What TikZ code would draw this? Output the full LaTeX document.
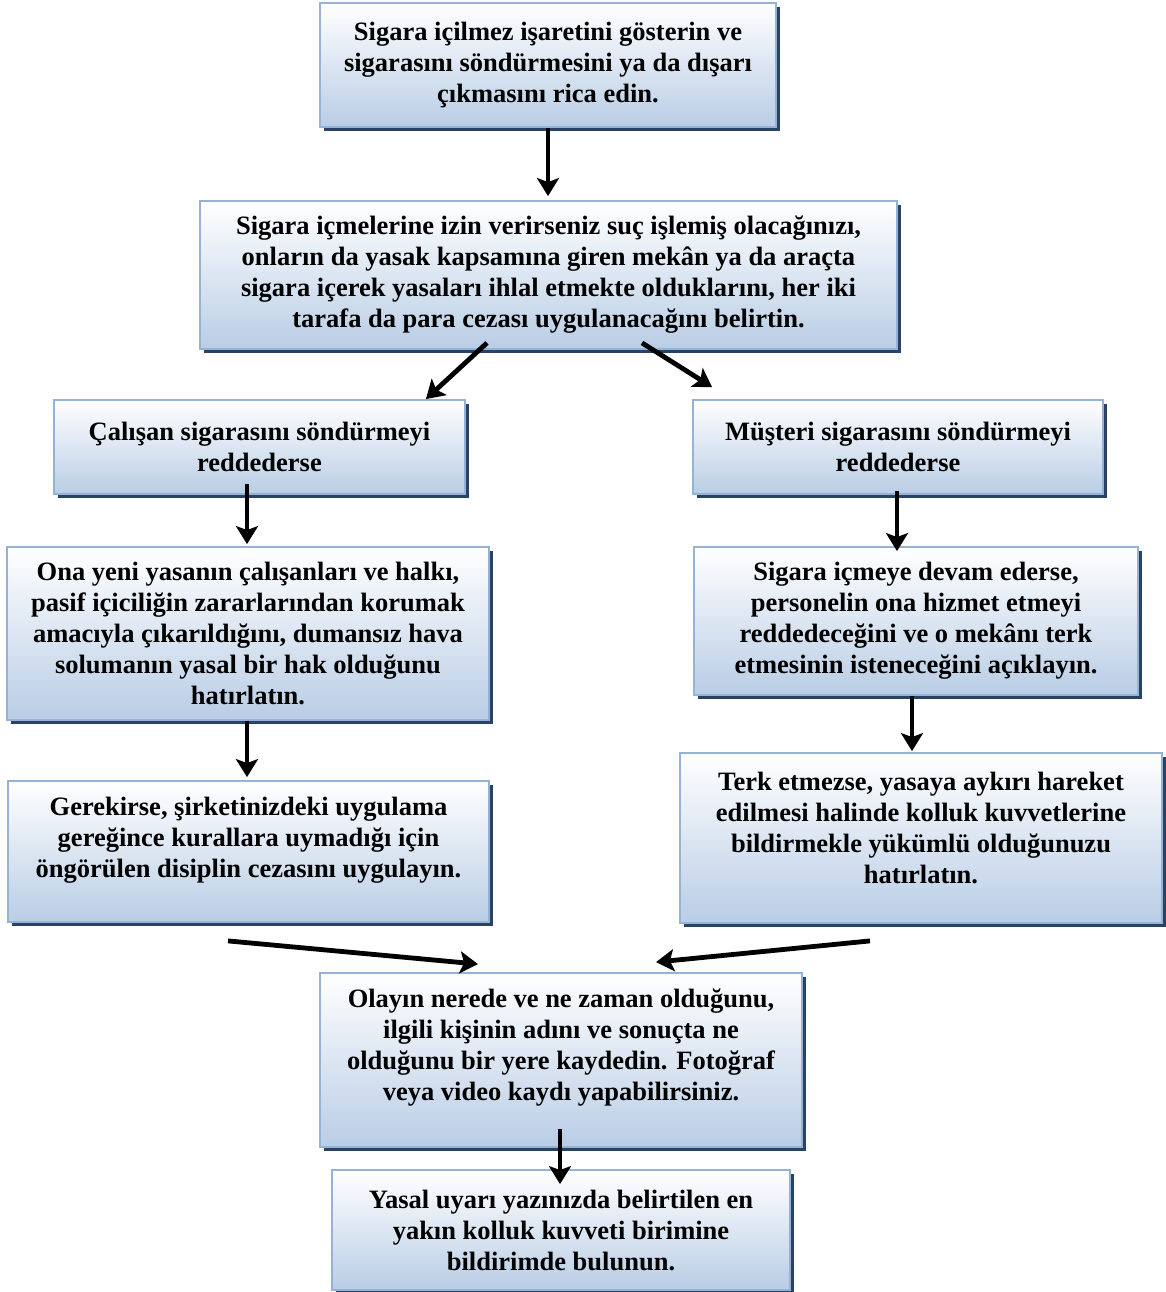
\documentclass[tikz,border=0pt]{standalone}
\usepackage{fontspec}
\setmainfont{Liberation Serif}
\usetikzlibrary{arrows.meta,calc,shadows}
\definecolor{boxborder}{HTML}{95B3D7}
\definecolor{boxbottom}{HTML}{B9CDE5}
\definecolor{boxshadow}{HTML}{2A4365}
\tikzset{
  flowbox/.style={draw=boxborder, line width=1.8pt, top color=white, bottom color=boxbottom,
    drop shadow={fill=boxshadow, opacity=1, shadow xshift=4pt, shadow yshift=-4pt},
    inner sep=0pt, align=center, font=\bfseries\fontsize{26.5}{31}\selectfont},
  flowtext/.style={inner sep=0pt, align=center, font=\bfseries\fontsize{26.5}{31}\selectfont},
  flowarrow/.style={line width=4.8pt, -{Stealth[length=18pt,width=22pt,inset=4pt]}}
}
\begin{document}
\begin{tikzpicture}[x=1pt,y=-1pt]
\useasboundingbox (0,0) rectangle (1166,1292);

\node[flowbox, minimum width=456pt, minimum height=124pt] (b1) at (548,65)
  {Sigara içilmez işaretini gösterin ve\\sigarasını söndürmesini ya da dışarı\\çıkmasını rica edin.};
\node[flowbox, minimum width=697pt, minimum height=148pt] (b2) at (548.5,275)
  {Sigara içmelerine izin verirseniz suç işlemiş olacağınızı,\\onların da yasak kapsamına giren mekân ya da araçta\\sigara içerek yasaları ihlal etmekte olduklarını, her iki\\tarafa da para cezası uygulanacağını belirtin.};
\node[flowbox, minimum width=411pt, minimum height=94pt] (b3) at (259.5,447)
  {Çalışan sigarasını söndürmeyi\\reddederse};
\node[flowbox, minimum width=410pt, minimum height=94pt] (b4) at (898,447)
  {Müşteri sigarasını söndürmeyi\\reddederse};
\node[flowbox, minimum width=482pt, minimum height=173pt] (b5) at (248,633.5)
  {Ona yeni yasanın çalışanları ve halkı,\\pasif içiciliğin zararlarından korumak\\amacıyla çıkarıldığını, dumansız hava\\solumanın yasal bir hak olduğunu\\hatırlatın.};
\node[flowbox, minimum width=444pt, minimum height=148pt] (b6) at (916,621)
  {Sigara içmeye devam ederse,\\personelin ona hizmet etmeyi\\reddedeceğini ve o mekânı terk\\etmesinin isteneceğini açıklayın.};
\node[flowbox, minimum width=481pt, minimum height=141pt] (b7) at (248.5,851.5) {};
\node[flowtext] (t7) at ($(b7.center)+(0,-11)$)
  {Gerekirse, şirketinizdeki uygulama\\gereğince kurallara uymadığı için\\öngörülen disiplin cezasını uygulayın.};
\node[flowbox, minimum width=482pt, minimum height=170pt] (b8) at (921,838) {};
\node[flowtext] (t8) at ($(b8.center)+(0,-10.5)$)
  {Terk etmezse, yasaya aykırı hareket\\edilmesi halinde kolluk kuvvetlerine\\bildirmekle yükümlü olduğunuzu\\hatırlatın.};
\node[flowbox, minimum width=482pt, minimum height=174pt] (b9) at (561,1060) {};
\node[flowtext] (t9) at ($(b9.center)+(0,-12.5)$)
  {Olayın nerede ve ne zaman olduğunu,\\ilgili kişinin adını ve sonuçta ne\\olduğunu bir yere kaydedin. Fotoğraf\\veya video kaydı yapabilirsiniz.};
\node[flowbox, minimum width=458pt, minimum height=120pt] (b10) at (561,1230)
  {Yasal uyarı yazınızda belirtilen en\\yakın kolluk kuvveti birimine\\bildirimde bulunun.};

\draw[flowarrow] (b1.south) -- ($(b1.south |- b2.north)+(0,-4)$);
\draw[flowarrow] ($(b2.south)+(-61.5,-7)$) -- ($(b3.north east)+(-40,0)$);
\draw[flowarrow] ($(b2.south)+(93.5,-7)$) -- ($(b4.north west)+(20,-12)$);
\draw[flowarrow] ($(b3.south)+(-12.5,-11)$) -- ($(b5.north)+(-1,-2)$);
\draw[flowarrow] ($(b4.south)+(-1,-4)$) -- ($(b6.north)+(-19,5)$);
\draw[flowarrow] ($(b5.south)+(-1,0)$) -- ($(b7.north)+(-1.5,-3)$);
\draw[flowarrow] ($(b6.south)+(-4,0)$) -- ($(b8.north)+(-9,-1)$);
\draw[flowarrow] ($(b7.south)+(-20.5,18)$) -- ($(b9.north)+(-83,-8)$);
\draw[flowarrow] ($(b8.south)+(-51,17)$) -- ($(b9.north)+(95,-10)$);
\draw[flowarrow] ($(b9.south)+(-1,-19)$) -- ($(b10.north)+(-1,15)$);
\end{tikzpicture}
\end{document}
